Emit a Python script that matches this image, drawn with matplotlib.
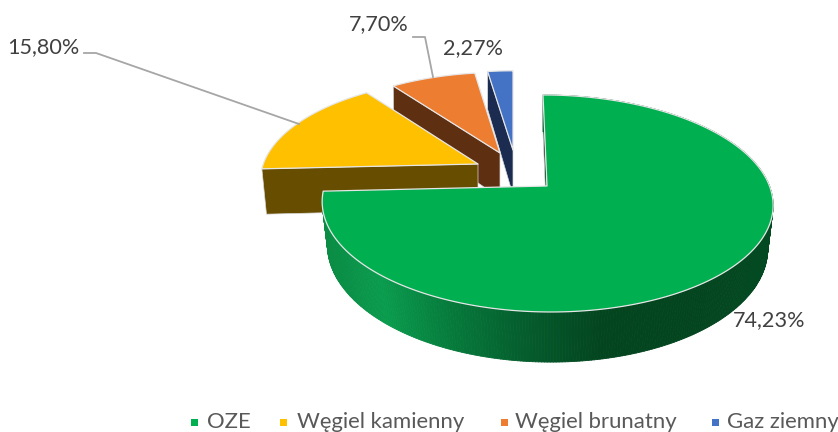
import numpy as np
import matplotlib
matplotlib.use("Agg")
import matplotlib.pyplot as plt
from matplotlib.patches import Polygon, Rectangle
from matplotlib.collections import PolyCollection
from matplotlib.colors import to_rgb

categories = ["OZE", "Węgiel kamienny", "Węgiel brunatny", "Gaz ziemny"]
values = [74.23, 15.80, 7.70, 2.27]

top_colors = ["#00B050", "#FFC000", "#ED7D31", "#4472C4"]
wall_colors = ["#03451F", "#664D00", "#5F2F12", "#1B2C50"]
apex_x = [547, 478, 500, 513]
apex_y = [186, 164, 153, 150]
scale_x = [1.0, 0.965, 0.925, 0.93]
scale_y = [1.0, 0.94, 0.885, 0.87]
skews = [4, 0, 0, 0]
draw_order = [3, 2, 1, 0]

# projection of the unit disc (perspective view)
B, A, K = 222.5, 105.7, 0.161
B2, A2, K2 = 218.0, 113.0, 0.138
DEPTH = 45.0


def ring(theta, i, bottom=False):
    u, v = np.sin(theta), -np.cos(theta)
    b, a, k = (B2, A2, K2) if bottom else (B, A, K)
    w = 1 - k * v
    x = apex_x[i] + scale_x[i] * b * u / w + skews[i] * v
    y = apex_y[i] + scale_y[i] * a * v / w + (DEPTH if bottom else 0)
    return x, y


fig = plt.figure(figsize=(8.38, 4.32), dpi=100)
ax = fig.add_axes([0, 0, 1, 1])
ax.set_xlim(0, 838)
ax.set_ylim(432, 0)
ax.axis("off")

fractions = np.array(values) / sum(values)
ends = np.cumsum(fractions) * 2 * np.pi
starts = ends - fractions * 2 * np.pi

grad_x = [322, 345, 380, 450, 520, 600, 700, 775]
grad_c = np.array([to_rgb(c) for c in
                   ["#0B8C45", "#0A9148", "#0A9C4E", "#067A3B", "#055E2E", "#03451F", "#03451F", "#034A22"]])

for i in draw_order:
    t0, t1 = starts[i], ends[i]
    th = np.linspace(t0, t1, 400)
    xt, yt = ring(th, i)
    xb, yb = ring(th, i, bottom=True)
    # radial wall at the start of the slice
    ax.add_patch(Polygon([(xt[0], yt[0]), (xb[0], yb[0]),
                          (apex_x[i], apex_y[i] + DEPTH), (apex_x[i], apex_y[i])],
                         closed=True, facecolor=wall_colors[i], edgecolor="#D9D9D9", lw=0.5))
    # outer wall, only for the big slice, which is seen from the front
    if i == 0:
        quads, cols = [], []
        for j in range(len(th) - 1):
            quads.append([(xt[j], yt[j]), (xt[j + 1], yt[j + 1]),
                          (xb[j + 1], yb[j + 1]), (xb[j], yb[j])])
            xm = (xt[j] + xt[j + 1]) / 2
            cols.append([np.interp(xm, grad_x, grad_c[:, c]) for c in range(3)])
        ax.add_collection(PolyCollection(quads, facecolors=cols, edgecolors=cols, linewidths=0.6))
    # top face
    pts = [(apex_x[i], apex_y[i])] + list(zip(xt, yt))
    ax.add_patch(Polygon(pts, closed=True, facecolor=top_colors[i],
                         edgecolor="#E6E6E6", lw=0.9, joinstyle="round"))

# leader lines
LEADER = "#A6A6A6"
ax.plot([84, 96, 299], [53, 53, 124], color=LEADER, lw=1.3, zorder=1.5)
ax.plot([413, 425, 433], [37, 37, 77], color=LEADER, lw=1.3, zorder=1.5)

# data labels
label_pos = [(769, 320), (43.5, 47), (378.5, 24), (472.5, 48)]
for (lx, ly), val in zip(label_pos, values):
    ax.text(lx, ly, f"{val:.2f}%".replace(".", ","), family="Lato", fontsize=15.6,
            color="#404040", ha="center", va="center")

# legend
marker_x = [191, 280, 501, 712]
text_x = [207, 297, 515, 727]
for mx, tx, name, col in zip(marker_x, text_x, categories, top_colors):
    ax.add_patch(Rectangle((mx, 419), 7, 7, facecolor=col, edgecolor="none"))
    ax.text(tx, 422, name, family="Lato", fontsize=15.9, color="#595959",
            ha="left", va="center")

fig.savefig("out.png", dpi=100)
